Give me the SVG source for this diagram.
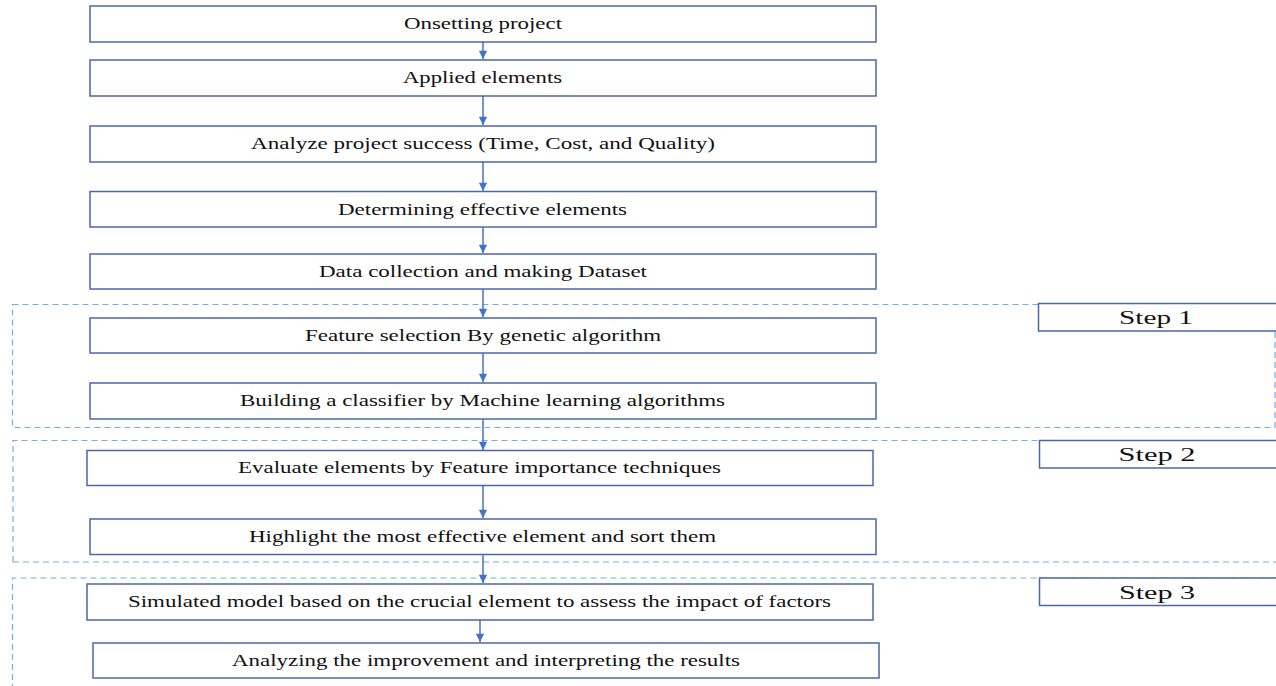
<svg xmlns="http://www.w3.org/2000/svg" width="1276" height="686" viewBox="0 0 1276 686">
  <style>
    .box { fill: #ffffff; stroke: #4a68a6; stroke-width: 1.5; }
    .tag { fill: #ffffff; stroke: #4a68a6; stroke-width: 1.5; }
    .zone { fill: none; stroke: #72aee6; stroke-width: 1.2; stroke-dasharray: 6 4; }
    .lbl { font-family: "Liberation Serif", "Times New Roman", serif; font-size: 16px; fill: #111111; text-anchor: middle; }
    .step { font-family: "Liberation Serif", "Times New Roman", serif; font-size: 18.5px; fill: #111111; text-anchor: middle; }
    .conn { stroke: #4472c4; stroke-width: 1.5; fill: none; marker-end: url(#arrow); }
  </style>
  <defs>
    <marker id="arrow" viewBox="0 0 10 10" refX="10" refY="5" markerWidth="6" markerHeight="5.5" markerUnits="strokeWidth" orient="auto">
      <path d="M0,0 L10,5 L0,10 z" fill="#4472c4"/>
    </marker>
  </defs>
  <rect width="1276" height="686" fill="#ffffff"/>

  <!-- step zones -->
  <g id="zones">
    <rect class="zone" x="12.5" y="304.5" width="1262.5" height="123"/>
    <path class="zone" d="M13,562 L13,440.5 L1290,440.5 M13,562 L1290,562"/>
    <path class="zone" d="M12.5,700 L12.5,578 L1290,578"/>
  </g>

  <!-- connectors -->
  <g id="connectors">
    <line class="conn" x1="483" y1="42" x2="483" y2="59"/>
    <line class="conn" x1="483" y1="96" x2="483" y2="125"/>
    <line class="conn" x1="483" y1="162" x2="483" y2="191"/>
    <line class="conn" x1="483" y1="227" x2="483" y2="253"/>
    <line class="conn" x1="483" y1="289" x2="483" y2="317"/>
    <line class="conn" x1="483" y1="353" x2="483" y2="382"/>
    <line class="conn" x1="483" y1="419" x2="483" y2="450"/>
    <line class="conn" x1="483" y1="486" x2="483" y2="518"/>
    <line class="conn" x1="483" y1="555" x2="483" y2="583"/>
    <line class="conn" x1="480" y1="620" x2="480" y2="642"/>
  </g>

  <!-- process boxes -->
  <g id="n1"><rect class="box" x="90" y="6" width="786" height="36"/>
    <text class="lbl" x="483" y="29" textLength="158" lengthAdjust="spacingAndGlyphs">Onsetting project</text></g>
  <g id="n2"><rect class="box" x="90" y="60" width="786" height="36"/>
    <text class="lbl" x="482.5" y="83" textLength="159" lengthAdjust="spacingAndGlyphs">Applied elements</text></g>
  <g id="n3"><rect class="box" x="90" y="126" width="786" height="36"/>
    <text class="lbl" x="483" y="149" textLength="464" lengthAdjust="spacingAndGlyphs">Analyze project success (Time, Cost, and Quality)</text></g>
  <g id="n4"><rect class="box" x="90" y="191.5" width="786" height="35.5"/>
    <text class="lbl" x="482.5" y="214.5" textLength="289" lengthAdjust="spacingAndGlyphs">Determining effective elements</text></g>
  <g id="n5"><rect class="box" x="90" y="254" width="786" height="35"/>
    <text class="lbl" x="483" y="277" textLength="328" lengthAdjust="spacingAndGlyphs">Data collection and making Dataset</text></g>
  <g id="n6"><rect class="box" x="90" y="318" width="786" height="35"/>
    <text class="lbl" x="483" y="341" textLength="356" lengthAdjust="spacingAndGlyphs">Feature selection By genetic algorithm</text></g>
  <g id="n7"><rect class="box" x="90" y="383" width="786" height="36"/>
    <text class="lbl" x="482.5" y="406" textLength="485" lengthAdjust="spacingAndGlyphs">Building a classifier by Machine learning algorithms</text></g>
  <g id="n8"><rect class="box" x="87" y="450.5" width="786" height="35"/>
    <text class="lbl" x="479.5" y="473" textLength="483" lengthAdjust="spacingAndGlyphs">Evaluate elements by Feature importance techniques</text></g>
  <g id="n9"><rect class="box" x="90" y="519" width="786" height="35.5"/>
    <text class="lbl" x="482.5" y="542" textLength="467" lengthAdjust="spacingAndGlyphs">Highlight the most effective element and sort them</text></g>
  <g id="n10"><rect class="box" x="87" y="584" width="786" height="36"/>
    <text class="lbl" x="479.5" y="607" textLength="703" lengthAdjust="spacingAndGlyphs">Simulated model based on the crucial element to assess the impact of factors</text></g>
  <g id="n11"><rect class="box" x="93" y="643" width="786" height="35"/>
    <text class="lbl" x="486" y="666" textLength="508" lengthAdjust="spacingAndGlyphs">Analyzing the improvement and interpreting the results</text></g>

  <!-- step tags -->
  <g id="step1"><rect class="tag" x="1038.5" y="303.5" width="250" height="27.5"/>
    <text class="step" x="1156" y="324" textLength="74" lengthAdjust="spacingAndGlyphs">Step 1</text></g>
  <g id="step2"><rect class="tag" x="1039.5" y="440.5" width="250" height="27.5"/>
    <text class="step" x="1157" y="461" textLength="77" lengthAdjust="spacingAndGlyphs">Step 2</text></g>
  <g id="step3"><rect class="tag" x="1039.5" y="578" width="250" height="27.5"/>
    <text class="step" x="1157" y="598.5" textLength="76" lengthAdjust="spacingAndGlyphs">Step 3</text></g>
</svg>
